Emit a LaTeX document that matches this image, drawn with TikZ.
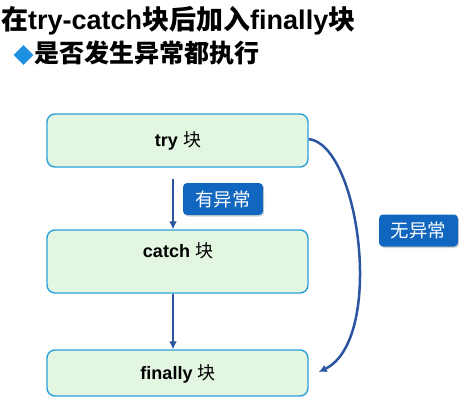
\documentclass[tikz,border=0pt]{standalone}
\usepackage{fontspec}
\setmainfont{Liberation Sans}
\newfontfamily\cjk{Noto Sans CJK SC}
\usetikzlibrary{arrows.meta,shadows,shapes.geometric}

\definecolor{boxfill}{RGB}{226,246,226}
\definecolor{boxline}{RGB}{44,160,218}
\definecolor{flow}{RGB}{43,85,160}
\definecolor{tagfill}{RGB}{17,102,192}
\definecolor{bullet}{RGB}{31,143,223}

\tikzset{
  blk/.style={draw=boxline, line width=1.4pt, fill=boxfill, rounded corners=8pt,
              minimum width=261pt, inner sep=0pt},
  blktext/.style={font=\bfseries\fontsize{18}{20}\selectfont, inner sep=0pt},
  tag/.style={fill=tagfill, rounded corners=4pt, text=white, inner sep=0pt,
              minimum width=80pt, minimum height=32pt,
              font=\cjk\fontsize{18.5}{20}\selectfont,
              drop shadow={opacity=0.35, shadow xshift=1.2pt, shadow yshift=-1.5pt}},
  link/.style={draw=flow, line width=2.5pt, -{Latex[length=8pt,width=8pt]}}
}

\begin{document}
\begin{tikzpicture}[x=1pt,y=-1pt]
  \path[use as bounding box] (0,0) rectangle (462,402);

  % heading and bullet line
  \node[anchor=base west, inner sep=0pt, font=\bfseries\fontsize{27}{30}\selectfont]
    (title) at (1,29) {{\cjk 在}try-catch{\cjk 块后加入}finally{\cjk 块}};
  \node[diamond, fill=bullet, inner sep=0pt, minimum width=20pt, minimum height=20pt]
    (dot) at (23.5,55) {};
  \node[anchor=base west, inner sep=0pt, font=\cjk\bfseries\fontsize{25}{30}\selectfont]
    (sub) at (34,62) {是否发生异常都执行};

  % the three blocks
  \node[blk, minimum height=53pt] (try) at (177.5,140.5) {};
  \node[blk, minimum height=63pt] (catch) at (177.5,261.5) {};
  \node[blk, minimum height=46pt] (fin) at (177.5,373) {};

  \node[blktext] (trylbl) at (178,141) {try {\cjk\mdseries 块}};
  \node[blktext] (catchlbl) at (178,251) {catch {\cjk\mdseries 块}};
  \node[blktext] (finlbl) at (178,374) {finally {\cjk\mdseries 块}};

  % flow arrows
  \draw[link, shorten <=11pt] ([xshift=-4.5pt]try.south) -- ([xshift=-4.5pt]catch.north);
  \draw[link] ([xshift=-4.5pt]catch.south) -- ([xshift=-4.5pt]fin.north);
  \coordinate (finend) at ([xshift=10pt,yshift=1pt]fin.east);
  \draw[link] ([yshift=1.5pt]try.east) .. controls (360,145) and (385,340) .. (finend);

  % branch tags
  \node[tag] (has) at (223,199) {有异常};
  \node[tag, minimum width=79pt] (none) at (418.5,230.5) {无异常};
\end{tikzpicture}
\end{document}
